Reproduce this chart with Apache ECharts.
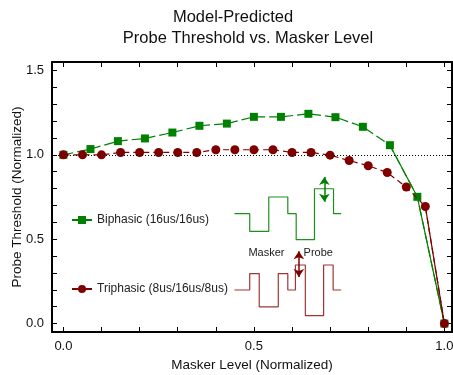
<!DOCTYPE html>
<html>
<head>
<meta charset="utf-8">
<script src="https://cdn.jsdelivr.net/npm/echarts@6/dist/echarts.min.js"></script>
<style>
  html, body { margin: 0; padding: 0; background: #fff; }
  #chart { width: 453px; height: 375px; }
</style>
</head>
<body>
<div id="chart"></div>
<script>
// values
var biphasicX = [0, 0.071, 0.143, 0.214, 0.286, 0.357, 0.429, 0.5, 0.571, 0.643, 0.714, 0.786, 0.857, 0.929, 1.0]
var biphasicY = [1.0, 1.034, 1.081, 1.097, 1.132, 1.172, 1.185, 1.225, 1.225, 1.243, 1.223, 1.166, 1.057, 0.751, 0.0]
var triphasicX = [0, 0.05, 0.1, 0.15, 0.2, 0.25, 0.3, 0.35, 0.4, 0.45, 0.5, 0.55, 0.6, 0.65, 0.7, 0.75, 0.8, 0.85, 0.9, 0.95, 1.0]
var triphasicY = [1.0, 1.0, 1.0, 1.014, 1.014, 1.014, 1.014, 1.014, 1.03, 1.03, 1.03, 1.03, 1.014, 1.014, 0.998, 0.966, 0.935, 0.895, 0.809, 0.694, 0.0]

// inset pulse shapes (level starts, drawn as steps)
var biphasicPulse = [[0.449, 0.651], [0.489, 0.546], [0.539, 0.750], [0.589, 0.651], [0.611, 0.497], [0.659, 0.799], [0.709, 0.651], [0.729, 0.651]]
var triphasicPulse = [[0.449, 0.199], [0.489, 0.296], [0.514, 0.099], [0.564, 0.296], [0.589, 0.199], [0.609, 0.347], [0.635, 0.047], [0.683, 0.347], [0.708, 0.199], [0.729, 0.199]]
var biphasicArrow = [[0.685, 0.722], [0.685, 0.868]]
var triphasicArrow = [[0.618, 0.276], [0.618, 0.428]]
var pulseLabels = [['Masker', 0.533, 0.42], ['Probe', 0.669, 0.42]]

var xTicks = [0, 0.1, 0.2, 0.3, 0.4, 0.5, 0.6, 0.7, 0.8, 0.9, 1.0]
var xLabels = [0, 0.5, 1.0]
var yTicks = [0, 0.1, 0.2, 0.3, 0.4, 0.5, 0.6, 0.7, 0.8, 0.9, 1.0, 1.1, 1.2, 1.3, 1.4, 1.5]
var yLabels = [0, 0.5, 1.0, 1.5]

var green = '#008000'
var red = '#800000'
var font = 'Liberation Sans, Arial, sans-serif'

function pairs(xs, ys) {
  return xs.map(function(x, i) { return [x, ys[i]] })
}

var chart = echarts.init(document.getElementById('chart'))

var frame = {
  axisLine: { show: true, onZero: false, lineStyle: { color: '#000', width: 2 } },
  splitLine: { show: false }
}

chart.setOption({
  backgroundColor: '#fff',
  animation: false,
  title: [{
    text: 'Model-Predicted',
    left: 233,
    top: 9,
    padding: 0,
    textAlign: 'center',
    textStyle: { fontFamily: font, fontSize: 16.5, fontWeight: 'normal', color: '#111' }
  }, {
    text: 'Probe Threshold vs. Masker Level',
    left: 248,
    top: 30,
    padding: 0,
    textAlign: 'center',
    textStyle: { fontFamily: font, fontSize: 16.5, fontWeight: 'normal', color: '#111' }
  }],
  legend: [{
    data: ['Biphasic (16us/16us)'],
    left: 71,
    top: 214,
    padding: 0,
    itemWidth: 20,
    itemHeight: 10,
    lineStyle: { type: 'solid' },
    textStyle: { fontFamily: font, fontSize: 12, color: '#222' }
  }, {
    data: ['Triphasic (8us/16us/8us)'],
    left: 71,
    top: 283,
    padding: 0,
    itemWidth: 20,
    itemHeight: 10,
    lineStyle: { type: 'solid' },
    textStyle: { fontFamily: font, fontSize: 12, color: '#222' }
  }],
  grid: { left: 52, right: 1, top: 62, bottom: 43, containLabel: false, outerBoundsMode: 'none' },
  xAxis: [Object.assign({
    type: 'value',
    min: -0.03,
    max: 1.02,
    name: 'Masker Level (Normalized)',
    nameLocation: 'middle',
    nameGap: 26,
    nameMoveOverlap: false,
    nameTextStyle: { fontFamily: font, fontSize: 13.5, color: '#111' },
    axisTick: { show: true, inside: true, length: 5, customValues: xTicks, lineStyle: { color: '#000' } },
    axisLabel: { customValues: xLabels, fontFamily: font, fontSize: 13, color: '#111', margin: 8,
      formatter: function(v) { return v.toFixed(1) } }
  }, frame), Object.assign({
    type: 'value',
    position: 'top',
    min: -0.03,
    max: 1.02,
    axisTick: { show: true, inside: true, length: 5, customValues: xTicks, lineStyle: { color: '#000' } },
    axisLabel: { show: false }
  }, frame)],
  yAxis: [Object.assign({
    type: 'value',
    min: -0.05,
    max: 1.55,
    name: 'Probe Threshold (Normalized)',
    nameLocation: 'middle',
    nameGap: 28,
    nameMoveOverlap: false,
    nameTextStyle: { fontFamily: font, fontSize: 13.5, color: '#111' },
    axisTick: { show: true, inside: true, length: 5, customValues: yTicks, lineStyle: { color: '#000' } },
    axisLabel: { customValues: yLabels, fontFamily: font, fontSize: 13, color: '#111', margin: 8,
      formatter: function(v) { return v.toFixed(1) } }
  }, frame), Object.assign({
    type: 'value',
    position: 'right',
    min: -0.05,
    max: 1.55,
    axisTick: { show: true, inside: true, length: 5, customValues: yTicks, lineStyle: { color: '#000' } },
    axisLabel: { show: false }
  }, frame)],
  series: [{
    name: 'Biphasic (16us/16us)',
    type: 'line',
    data: pairs(biphasicX, biphasicY),
    symbol: 'rect',
    symbolSize: 8,
    color: green,
    lineStyle: { color: green, width: 1.2, type: [10, 4] },
    itemStyle: { color: green },
    markLine: {
      silent: true,
      symbol: 'none',
      label: { show: false },
      lineStyle: { color: '#000', width: 1, type: [1, 2] },
      data: [{ yAxis: 1 }]
    },
    z: 3
  }, {
    type: 'line',
    data: pairs(biphasicX, biphasicY).slice(12),
    symbol: 'none',
    lineStyle: { color: green, width: 1.2, type: 'solid' },
    z: 3
  }, {
    name: 'Triphasic (8us/16us/8us)',
    type: 'line',
    data: pairs(triphasicX, triphasicY),
    symbol: 'circle',
    symbolSize: 9,
    color: red,
    lineStyle: { color: red, width: 1.2, type: [6, 4] },
    itemStyle: { color: red },
    z: 4
  }, {
    type: 'line',
    data: pairs(triphasicX, triphasicY).slice(19),
    symbol: 'none',
    lineStyle: { color: red, width: 1.2, type: 'solid' },
    z: 4
  }, {
    type: 'line',
    step: 'end',
    data: biphasicPulse,
    symbol: 'none',
    lineStyle: { color: '#1f8f1f', width: 1.2 },
    markLine: {
      silent: true,
      symbol: ['arrow', 'arrow'],
      symbolSize: [8, 8],
      label: { show: false },
      lineStyle: { color: green, width: 1.5, type: 'solid' },
      data: [[{ coord: biphasicArrow[0] }, { coord: biphasicArrow[1] }]]
    }
  }, {
    type: 'line',
    step: 'end',
    data: triphasicPulse,
    symbol: 'none',
    lineStyle: { color: '#a03535', width: 1.2 },
    markLine: {
      silent: true,
      symbol: ['arrow', 'arrow'],
      symbolSize: [8, 8],
      label: { show: false },
      lineStyle: { color: red, width: 1.5, type: 'solid' },
      data: [[{ coord: triphasicArrow[0] }, { coord: triphasicArrow[1] }]]
    },
    markPoint: {
      silent: true,
      symbol: 'circle',
      symbolSize: 0,
      label: { show: true, position: 'inside', fontFamily: font, fontSize: 11, color: '#222',
        formatter: function(p) { return p.name } },
      data: pulseLabels.map(function(l) { return { name: l[0], coord: [l[1], l[2]] } })
    }
  }]
})
</script>
</body>
</html>
